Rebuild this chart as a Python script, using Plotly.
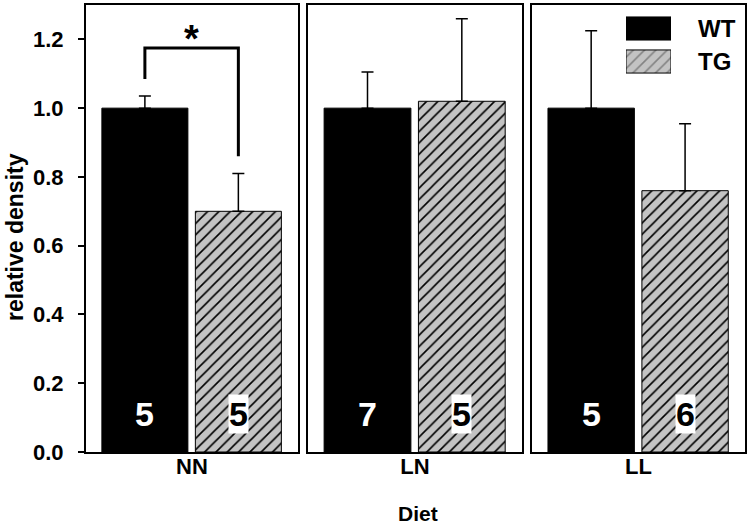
import plotly.graph_objects as go

# data
diets = ['NN', 'LN', 'LL']
genotypes = ['WT', 'TG']
wt_mean = [1.0, 1.0, 1.0]
wt_err = [0.035, 0.105, 0.225]
tg_mean = [0.70, 1.02, 0.76]
tg_err = [0.11, 0.24, 0.195]
wt_n = ['5', '7', '5']
tg_n = ['5', '5', '6']

FONT = 'Liberation Sans, Arial, sans-serif'
GRAY = '#c3c3c3'
hatch = dict(shape='/', bgcolor=GRAY, fgcolor='black', size=8, solidity=0.2, fillmode='replace')

domains = [(0.0, 0.3217), (0.337, 0.6616), (0.6768, 1.0)]

fig = go.Figure()

for i, diet in enumerate(diets):
    xa = 'x' if i == 0 else 'x%d' % (i + 1)
    ya = 'y' if i == 0 else 'y%d' % (i + 1)
    fig.add_trace(go.Bar(x=['WT'], y=[wt_mean[i]], width=0.92, xaxis=xa, yaxis=ya,
                         marker=dict(color='black', line=dict(color='black', width=1)),
                         error_y=dict(type='data', symmetric=False, array=[wt_err[i]], arrayminus=[0],
                                      color='black', thickness=1.5, width=6),
                         showlegend=False))
    fig.add_trace(go.Bar(x=['TG'], y=[tg_mean[i]], width=0.92, xaxis=xa, yaxis=ya,
                         marker=dict(color=GRAY, pattern=hatch, line=dict(color='black', width=1)),
                         error_y=dict(type='data', symmetric=False, array=[tg_err[i]], arrayminus=[0],
                                      color='black', thickness=1.5, width=6),
                         showlegend=False))
    # n labels
    fig.add_annotation(x='WT', y=0.11, xref=xa, yref=ya, text='<b>%s</b>' % wt_n[i], showarrow=False,
                       font=dict(family=FONT, size=34, color='white'))
    fig.add_annotation(x='TG', y=0.11, xref=xa, yref=ya, text='<b>%s</b>' % tg_n[i], showarrow=False,
                       font=dict(family=FONT, size=34, color='black'), bgcolor='white', borderpad=0)

    xaxis = dict(domain=list(domains[i]), anchor=ya, type='category', categoryarray=genotypes,
                 range=[-0.63, 1.638], showticklabels=False, ticks='', automargin=False,
                 showline=True, linecolor='black', linewidth=2, mirror=True,
                 title=dict(text=diet, font=dict(family=FONT, size=22, color='black', weight='bold'),
                            standoff=6))
    yaxis = dict(domain=[0, 1], anchor=xa, range=[0, 1.3], showgrid=False, zeroline=False, automargin=False,
                 showline=True, linecolor='black', linewidth=2, mirror=True)
    if i == 0:
        yaxis.update(ticks='outside', ticklen=6, tickwidth=1.5, tickcolor='black', dtick=0.2, tickformat='.1f',
                     ticklabelstandoff=10,
                     tickfont=dict(family=FONT, size=22, color='black', weight='bold'))
    else:
        yaxis.update(showticklabels=False, ticks='')
    fig.update_layout(**{('xaxis' if i == 0 else 'xaxis%d' % (i + 1)): xaxis,
                         ('yaxis' if i == 0 else 'yaxis%d' % (i + 1)): yaxis})

# y title (sits a little below the centre in the reference)
fig.add_annotation(x=(15 - 86) / 659, y=(452 - 237) / 447, xref='paper', yref='paper',
                   text='<b>relative density</b>', textangle=-90, showarrow=False,
                   xanchor='center', yanchor='middle', font=dict(family=FONT, size=23, color='black'))

# legend swatches on their own small axes
fig.add_trace(go.Bar(y=['TG', 'WT'], x=[1, 1], orientation='h', width=0.7, xaxis='x4', yaxis='y4',
                     marker=dict(color=[GRAY, 'black'], pattern=dict(shape=['/', ''], bgcolor=GRAY,
                                                                     fgcolor='black', size=8, solidity=0.2),
                                 line=dict(color='black', width=1)),
                     showlegend=False, hoverinfo='skip'))
fig.update_layout(
    xaxis4=dict(domain=[(626 - 86) / 659, (671 - 86) / 659], anchor='y4', range=[0, 1], visible=False),
    yaxis4=dict(domain=[(452 - 78) / 447, (452 - 12) / 447], anchor='x4', type='category',
                categoryarray=['TG', 'WT'], range=[-0.5, 1.5], visible=False),
)
for g in genotypes:
    fig.add_annotation(x=(696 - 86) / 659, y=g, xref='paper', yref='y4', xanchor='left', text='<b>%s</b>' % g,
                       showarrow=False, font=dict(family=FONT, size=24, color='black'))

# significance bracket
fig.add_shape(type='path', xref='x', yref='y', path='M 0,1.085 L 0,1.175 L 1,1.175 L 1,0.86',
              line=dict(color='black', width=3))
fig.add_annotation(x=0.5, y=1.2, xref='x', yref='y', text='<b>*</b>', showarrow=False, yanchor='middle',
                   font=dict(family=FONT, size=38, color='black'))

fig.add_annotation(x=(418 - 86) / 659, y=(452 - 513) / 447, xref='paper', yref='paper', text='<b>Diet</b>',
                   showarrow=False, yanchor='middle', font=dict(family=FONT, size=21, color='black'))

fig.update_layout(width=750, height=524, margin=dict(l=86, r=5, t=5, b=72),
                  plot_bgcolor='white', paper_bgcolor='white', barmode='overlay')

fig.write_html('out.html', config={'displayModeBar': False},
               post_script="document.body.style.margin='0';")
